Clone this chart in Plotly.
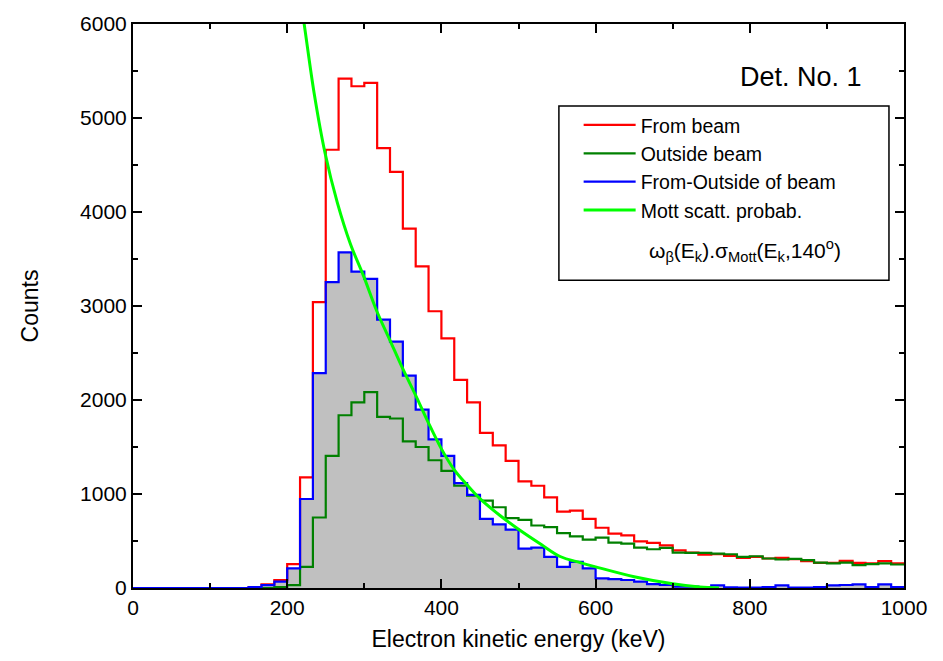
import plotly.graph_objects as go

# ---------------- data ----------------
BIN_WIDTH = 1000 / 60  # keV
bin_lo = [round(k * BIN_WIDTH, 3) for k in range(60)]

from_beam = [0, 0, 0, 0, 0, 0, 0, 0, 0, 10, 40, 85, 254, 1176, 3042, 4662, 5419, 5338, 5373, 4680,
             4426, 3824, 3422, 2944, 2655, 2215, 1975, 1651, 1518, 1352, 1134, 1088, 964, 813, 824,
             736, 641, 578, 560, 496, 479, 454, 401, 377, 356, 359, 341, 320, 331, 314, 320, 306,
             285, 267, 267, 289, 267, 261, 285, 261]

outside_beam = [0, 0, 0, 0, 0, 0, 0, 0, 0, 0, 0, 10, 30, 225, 750, 1405, 1838, 1975, 2084, 1820,
                1803, 1560, 1500, 1359, 1246, 1088, 982, 930, 859, 743, 725, 665, 648, 584, 549,
                514, 535, 483, 473, 430, 412, 426, 377, 373, 373, 366, 359, 331, 338, 314, 303, 310,
                296, 271, 261, 271, 243, 254, 261, 250]

difference = [0, 0, 0, 0, 0, 0, 0, 0, 0, 10, 30, 67, 208, 947, 2285, 3253, 3570, 3366, 3289, 2855,
              2620, 2260, 1898, 1581, 1405, 1116, 990, 736, 676, 620, 419, 430, 331, 225, 278,
              208, 102, 95, 85, 67, 42, 32, 14, 14, 10, 28, 7, 5, 5, 10, 28, 5, 5, 10, 28, 32,
              39, 10, 39, 10]

mott_E = [215, 222, 235, 249, 265, 282, 299, 316, 333, 350, 366, 383, 400, 416, 433, 450, 476,
          500, 530, 554, 580, 600, 650, 700, 735, 760]
mott_val = [6380, 6000, 5260, 4630, 4100, 3660, 3320, 2950, 2640, 2330, 2060, 1760, 1480, 1265,
            1100, 950, 771, 625, 460, 335, 270, 225, 120, 45, 12, 0]

x_ticks = [0, 200, 400, 600, 800, 1000]
y_ticks = [0, 1000, 2000, 3000, 4000, 5000, 6000]

FONT = "Liberation Sans, Arial, sans-serif"


def step(vals):
    return bin_lo + [1000], vals + [vals[-1]]


fig = go.Figure()

# gray area under difference histogram
xs, ys = step(difference)
fig.add_trace(go.Scatter(x=xs, y=ys, mode="lines", line=dict(shape="hv", width=0, color="#c0c0c0"),
                         fill="tozeroy", fillcolor="#c0c0c0", showlegend=False, hoverinfo="skip"))

for vals, name, color in [(from_beam, "From beam", "#ff0000"),
                          (outside_beam, "Outside beam", "#008000"),
                          (difference, "From-Outside of beam", "#0000ff")]:
    xs, ys = step(vals)
    fig.add_trace(go.Scatter(x=xs, y=ys, mode="lines", name=name,
                             line=dict(shape="hv", width=2.2, color=color)))

fig.add_trace(go.Scatter(x=mott_E, y=mott_val, mode="lines", name="Mott scatt. probab.",
                         line=dict(shape="spline", width=3, color="#00ff00")))

axis_common = dict(showline=True, linecolor="black", linewidth=2, mirror="allticks",
                   ticks="inside", ticklen=9, tickwidth=2, tickcolor="black",
                   showgrid=False, zeroline=False,
                   tickfont=dict(family=FONT, size=21, color="black"))

fig.update_xaxes(range=[0, 1000], tickvals=x_ticks,
                 minor=dict(dtick=100, ticks="inside", ticklen=5, tickwidth=2, tickcolor="black"),
                 title=dict(text="Electron kinetic energy (keV)", font=dict(family=FONT, size=23, color="black"),
                            standoff=13),
                 **axis_common)
fig.update_yaxes(range=[0, 6000], tickvals=y_ticks,
                 minor=dict(dtick=500, ticks="inside", ticklen=5, tickwidth=2, tickcolor="black"),
                 title=dict(text="Counts", font=dict(family=FONT, size=23, color="black"), standoff=35),
                 **axis_common)

# legend box (paper coordinates)
fig.add_shape(type="rect", xref="paper", yref="paper", x0=0.5524, x1=0.9805, y0=0.5458, y1=0.8544,
              line=dict(color="black", width=1.5), fillcolor="rgba(0,0,0,0)")

fig.add_annotation(xref="paper", yref="paper", x=0.9475, y=0.9067, xanchor="right", yanchor="middle",
                   text="Det. No. 1", showarrow=False, font=dict(family=FONT, size=27, color="black"))

fig.add_annotation(xref="paper", yref="paper", x=0.667, y=0.5986, xanchor="left", yanchor="middle",
                   text="ω<sub>β</sub>(E<sub>k</sub>).σ<sub>Mott</sub>(E<sub>k</sub>,140<sup>o</sup>)",
                   showarrow=False, font=dict(family=FONT, size=21, color="black"))

fig.update_layout(
    width=943, height=661,
    margin=dict(l=133, r=39, t=20, b=73),
    paper_bgcolor="white", plot_bgcolor="white",
    font=dict(family=FONT, size=20, color="black"),
    legend=dict(x=0.578, y=0.855, xanchor="left", yanchor="top", bgcolor="rgba(0,0,0,0)",
                borderwidth=0, font=dict(family=FONT, size=19.5, color="black"),
                itemwidth=52, tracegroupgap=0),
)

fig.write_html("out.html")
